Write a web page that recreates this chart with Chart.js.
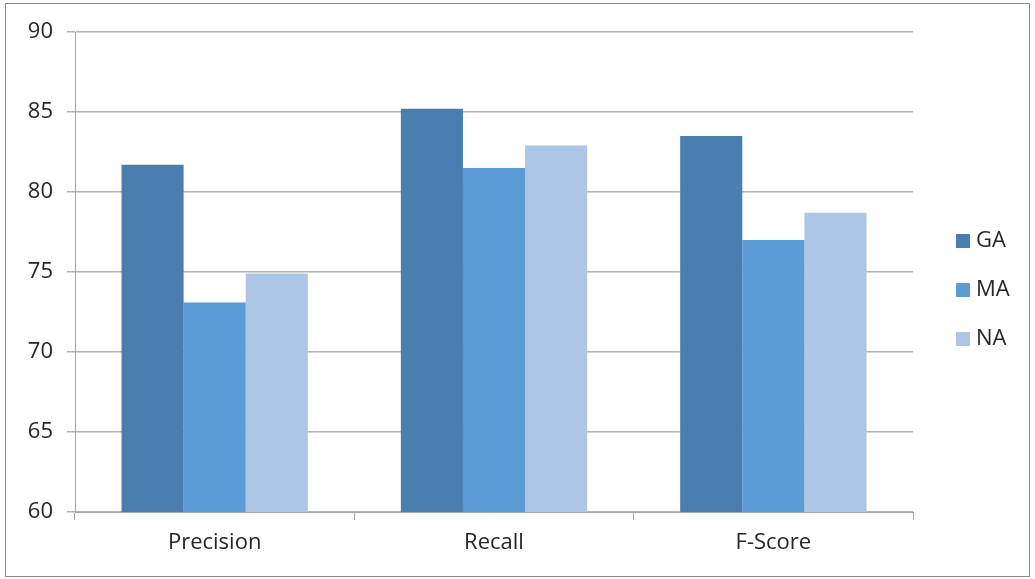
<!DOCTYPE html>
<html>
<head>
<meta charset="utf-8">
<script src="https://cdn.jsdelivr.net/npm/chart.js@4/dist/chart.umd.min.js"></script>
<style>
  html, body { margin: 0; padding: 0; background: #fff; }
  #wrap { width: 1035px; height: 579px; }
</style>
</head>
<body>
<div id="wrap"><canvas id="chart" width="1035" height="579"></canvas></div>
<script>
const categories = ["Precision", "Recall", "F-Score"]
const seriesNames = ["GA", "MA", "NA"]
const gaValues = [81.7, 85.2, 83.5]
const maValues = [73.1, 81.5, 77.0]
const naValues = [74.9, 82.9, 78.7]
const colors = ["#4a7eb0", "#5b9bd6", "#adc6e6"]

const FONT = "'Open Sans', sans-serif"
const TEXT = "#262626"

// frame round the picture + legend on the right
const extras = {
  id: "extras",
  beforeDraw(chart) {
    const ctx = chart.ctx
    ctx.save()
    ctx.fillStyle = "#fff"
    ctx.fillRect(0, 0, chart.width, chart.height)
    ctx.strokeStyle = "#8c8c8c"
    ctx.lineWidth = 1
    ctx.strokeRect(5.5, 3.5, 1024, 573)
    ctx.restore()
  },
  afterDraw(chart) {
    const ctx = chart.ctx
    ctx.save()
    ctx.font = "22px " + FONT
    ctx.textBaseline = "middle"
    chart.data.datasets.forEach((ds, i) => {
      const y = 241 + i * 49
      ctx.fillStyle = ds.backgroundColor
      ctx.fillRect(956, y - 7, 14, 14)
      ctx.fillStyle = TEXT
      ctx.fillText(ds.label, 976, y)
    })
    ctx.restore()
  }
}

const values = [gaValues, maValues, naValues]

new Chart(document.getElementById("chart"), {
  type: "bar",
  data: {
    labels: categories,
    datasets: seriesNames.map((name, i) => ({
      label: name,
      data: values[i],
      backgroundColor: colors[i],
      borderWidth: 0,
      categoryPercentage: 0.667,
      barPercentage: 1.0
    }))
  },
  options: {
    responsive: false,
    animation: false,
    devicePixelRatio: 1,
    layout: { padding: { top: 32, right: 122, left: 0, bottom: 0 } },
    plugins: {
      legend: { display: false },
      tooltip: { enabled: false }
    },
    scales: {
      x: {
        grid: {
          offset: true,
          drawOnChartArea: false,
          drawTicks: true,
          tickLength: 8,
          color: "#a6a6a6"
        },
        border: { display: true, color: "#a6a6a6", width: 1 },
        ticks: { color: TEXT, font: { family: FONT, size: 22 }, padding: 10 },
        afterFit(scale) { scale.height = 67 }
      },
      y: {
        min: 60,
        max: 90,
        ticks: { stepSize: 5, color: TEXT, font: { family: FONT, size: 22 }, padding: 14 },
        grid: { color: "#b3b3b3", lineWidth: 1.5, tickLength: 8 },
        border: { display: true, color: "#a6a6a6", width: 1 },
        afterFit(scale) { scale.width = 75 }
      }
    }
  },
  plugins: [extras]
})
</script>
</body>
</html>
